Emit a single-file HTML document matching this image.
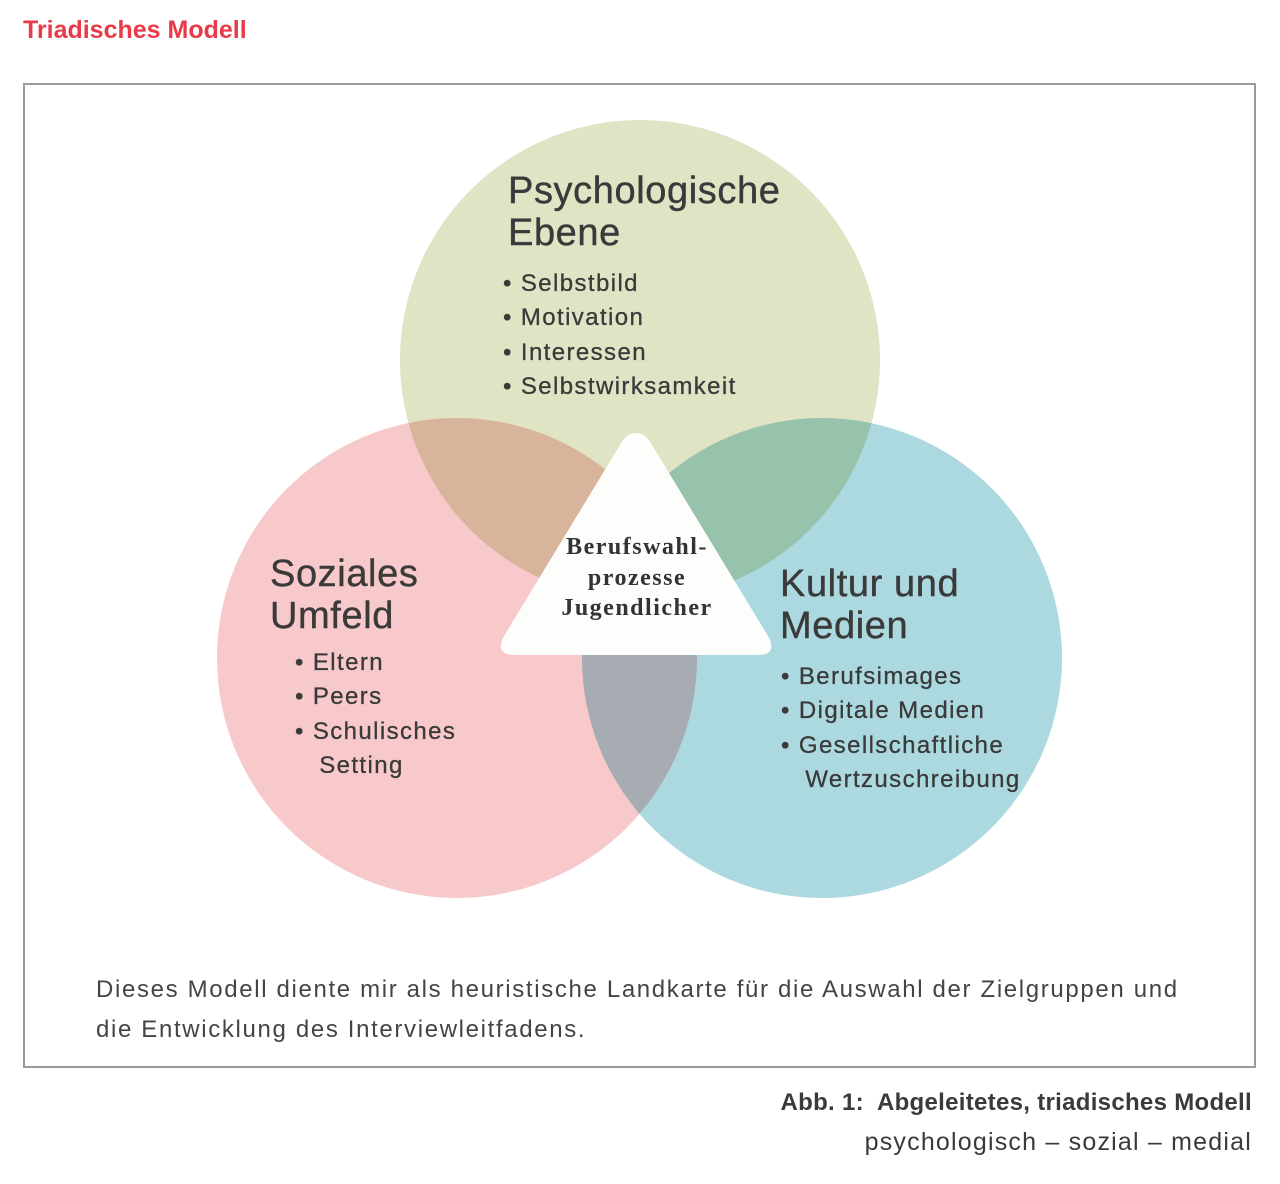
<!DOCTYPE html>
<html><head><meta charset="utf-8"><style>
body{margin:0;width:1280px;height:1184px;background:#fff;position:relative;overflow:hidden;font-family:"Liberation Sans",sans-serif;color:#3a3a3a}
.t{position:absolute;white-space:nowrap}
.b{font-size:24px;line-height:34.3px;letter-spacing:1.4px;-webkit-text-stroke:0.3px #3a3a3a}
.h{font-size:38px;line-height:42px;letter-spacing:0.6px;-webkit-text-stroke:0.4px #3a3a3a}
</style></head><body>
<div class="t" style="left:23px;top:16px;font-size:25px;font-weight:bold;color:#e83a48">Triadisches Modell</div>
<div style="position:absolute;left:23px;top:83px;width:1229px;height:981px;border:2px solid #9a9a9a"></div>
<svg width="1280" height="1184" style="position:absolute;left:0;top:0">
<g style="isolation:isolate">
<circle cx="640" cy="360" r="240" fill="#e0e4c4" style="mix-blend-mode:multiply"/>
<circle cx="457" cy="658" r="240" fill="#f8c9cb" style="mix-blend-mode:multiply"/>
<circle cx="822" cy="658" r="240" fill="#acd9e0" style="mix-blend-mode:multiply"/>
</g>
<path d="M636 433 Q646 433 652 445 L768 636 Q778 655 758 655 L515 655 Q494 655 504 636 L620 445 Q626 433 636 433 Z" fill="#fdfdfb"/>
<g font-family="Liberation Serif,serif" font-weight="bold" font-size="24" fill="#333" text-anchor="middle" letter-spacing="1.5">
<text x="637" y="554">Berufswahl-</text><text x="637" y="585">prozesse</text><text x="637" y="615">Jugendlicher</text>
</g>
</svg>
<div class="t h" style="left:508px;top:170px">Psychologische<br>Ebene</div>
<div class="t b" style="left:503px;top:267px">• Selbstbild<br>• Motivation<br>• Interessen<br>• Selbstwirksamkeit</div>
<div class="t h" style="left:270px;top:553px">Soziales<br>Umfeld</div>
<div class="t b" style="left:295px;top:646px">• Eltern<br>• Peers<br>• Schulisches<br>&nbsp;&nbsp;&nbsp;Setting</div>
<div class="t h" style="left:780px;top:563px">Kultur und<br>Medien</div>
<div class="t b" style="left:781px;top:660px">• Berufsimages<br>• Digitale Medien<br>• Gesellschaftliche<br>&nbsp;&nbsp;&nbsp;Wertzuschreibung</div>
<div class="t" style="left:96px;top:970px;font-size:24px;line-height:40px;color:#444;letter-spacing:1.65px">Dieses Modell diente mir als heuristische Landkarte für die Auswahl der Zielgruppen und<br>die Entwicklung des Interviewleitfadens.</div>
<div class="t" style="right:28px;top:1089px;font-size:24px;font-weight:bold;text-align:right;letter-spacing:0.3px">Abb. 1:&nbsp; Abgeleitetes, triadisches Modell</div>
<div class="t" style="right:28px;top:1128px;font-size:25px;text-align:right;letter-spacing:1.2px">psychologisch – sozial – medial</div>
</body></html>
